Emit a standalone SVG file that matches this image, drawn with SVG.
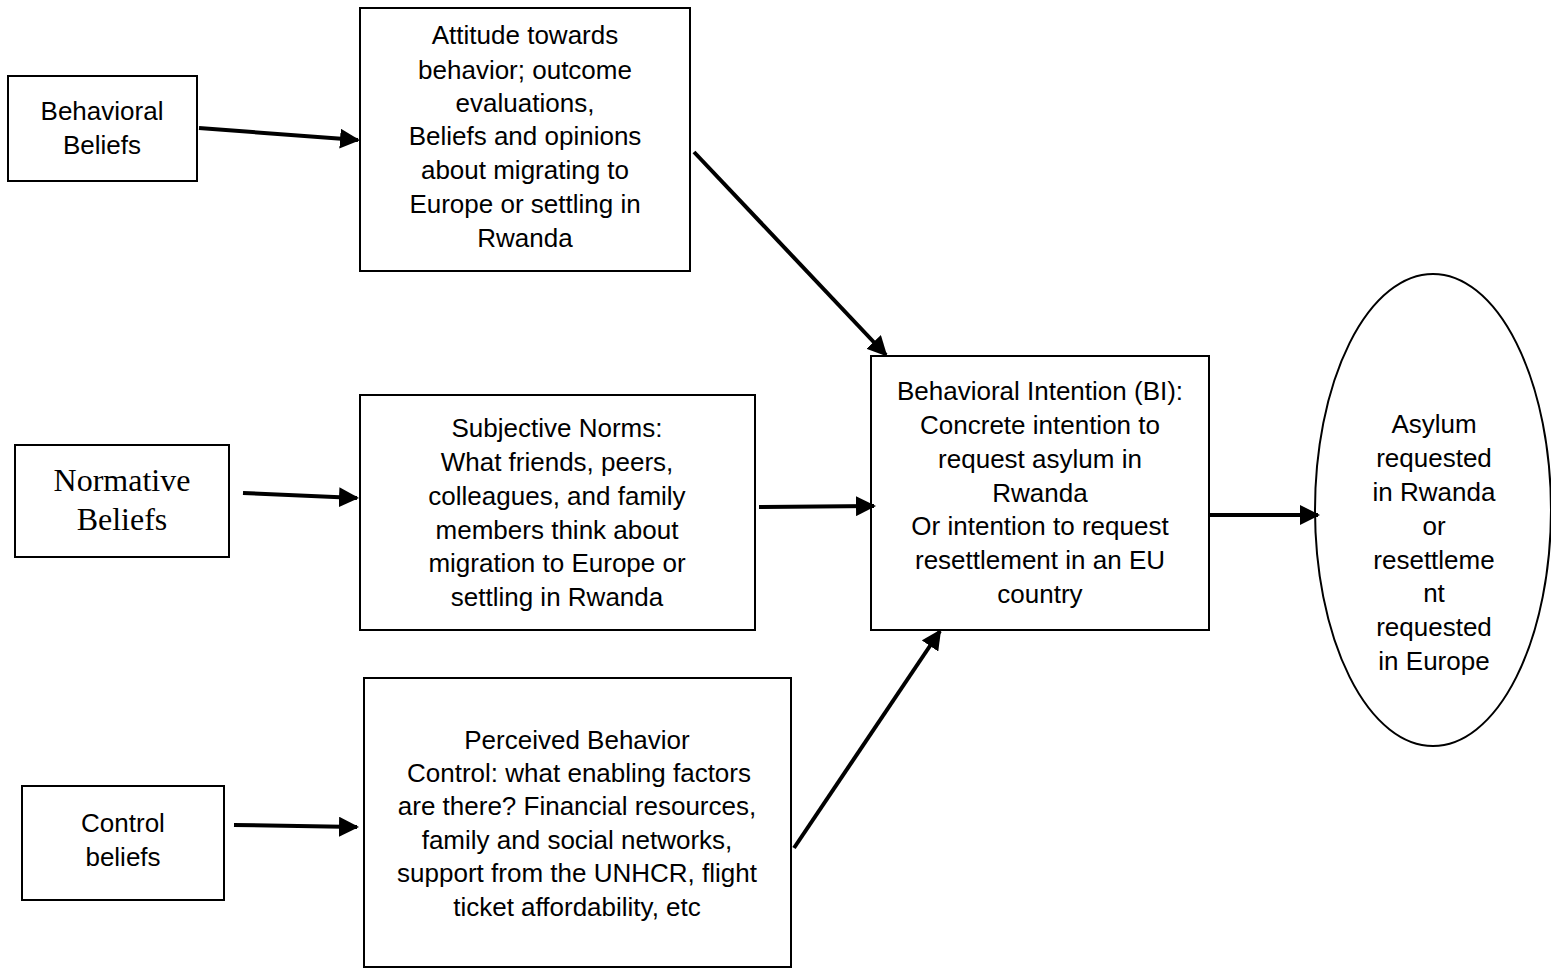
<svg xmlns="http://www.w3.org/2000/svg" width="1551" height="968" viewBox="0 0 1551 968">
<style>
.box{fill:#fff;stroke:#000;stroke-width:2}
.t{font-family:"Liberation Sans",Arial,sans-serif;font-size:26px;fill:#000;text-anchor:middle}
.s{font-family:"Liberation Serif","Times New Roman",serif;font-size:32px;fill:#000;text-anchor:middle}
.c{stroke:#000;stroke-width:4;fill:none;marker-end:url(#ah)}
</style>
<defs>
<marker id="ah" viewBox="0 0 10 10" refX="9" refY="5" markerWidth="5" markerHeight="5" orient="auto" markerUnits="strokeWidth">
<path d="M0,0 L10,5 L0,10 z" fill="#000"/>
</marker>
</defs>
<rect width="1551" height="968" fill="#fff"/>
<g id="behavioral-beliefs">
<rect class="box" x="8" y="76" width="189" height="105"/>
<text class="t" x="102" y="120">Behavioral</text>
<text class="t" x="102" y="154">Beliefs</text>
</g>
<g id="attitude">
<rect class="box" x="360" y="8" width="330" height="263"/>
<text class="t" x="525" y="44">Attitude towards</text>
<text class="t" x="525" y="79">behavior; outcome</text>
<text class="t" x="525" y="112">evaluations,</text>
<text class="t" x="525" y="145">Beliefs and opinions</text>
<text class="t" x="525" y="179">about migrating to</text>
<text class="t" x="525" y="213">Europe or settling in</text>
<text class="t" x="525" y="247">Rwanda</text>
</g>
<g id="normative-beliefs">
<rect class="box" x="15" y="445" width="214" height="112"/>
<text class="s" x="122" y="491">Normative</text>
<text class="s" x="122" y="530">Beliefs</text>
</g>
<g id="subjective-norms">
<rect class="box" x="360" y="395" width="395" height="235"/>
<text class="t" x="557" y="437">Subjective Norms:</text>
<text class="t" x="557" y="471">What friends, peers,</text>
<text class="t" x="557" y="505">colleagues, and family</text>
<text class="t" x="557" y="539">members think about</text>
<text class="t" x="557" y="572">migration to Europe or</text>
<text class="t" x="557" y="606">settling in Rwanda</text>
</g>
<g id="control-beliefs">
<rect class="box" x="22" y="786" width="202" height="114"/>
<text class="t" x="123" y="832">Control</text>
<text class="t" x="123" y="866">beliefs</text>
</g>
<g id="perceived-control">
<rect class="box" x="364" y="678" width="427" height="289"/>
<text class="t" x="577" y="749">Perceived Behavior</text>
<text class="t" x="579" y="782">Control: what enabling factors</text>
<text class="t" x="577" y="815">are there? Financial resources,</text>
<text class="t" x="577" y="849">family and social networks,</text>
<text class="t" x="577" y="882">support from the UNHCR, flight</text>
<text class="t" x="577" y="916">ticket affordability, etc</text>
</g>
<g id="behavioral-intention">
<rect class="box" x="871" y="356" width="338" height="274"/>
<text class="t" x="1040" y="400">Behavioral Intention (BI):</text>
<text class="t" x="1040" y="434">Concrete intention to</text>
<text class="t" x="1040" y="468">request asylum in</text>
<text class="t" x="1040" y="502">Rwanda</text>
<text class="t" x="1040" y="535">Or intention to request</text>
<text class="t" x="1040" y="569">resettlement in an EU</text>
<text class="t" x="1040" y="603">country</text>
</g>
<g id="outcome">
<ellipse class="box" cx="1433" cy="510" rx="118" ry="236"/>
<text class="t" x="1434" y="433">Asylum</text>
<text class="t" x="1434" y="467">requested</text>
<text class="t" x="1434" y="501">in Rwanda</text>
<text class="t" x="1434" y="535">or</text>
<text class="t" x="1434" y="569">resettleme</text>
<text class="t" x="1434" y="602">nt</text>
<text class="t" x="1434" y="636">requested</text>
<text class="t" x="1434" y="670">in Europe</text>
</g>
<g id="connectors">
<line class="c" x1="199" y1="128" x2="358" y2="140"/>
<line class="c" x1="694" y1="152" x2="886" y2="355"/>
<line class="c" x1="243" y1="493" x2="357" y2="498"/>
<line class="c" x1="759" y1="507" x2="874" y2="506"/>
<line class="c" x1="234" y1="825" x2="357" y2="827"/>
<line class="c" x1="794" y1="848" x2="940" y2="631"/>
<line class="c" x1="1209" y1="515" x2="1318" y2="515"/>
</g>
</svg>
